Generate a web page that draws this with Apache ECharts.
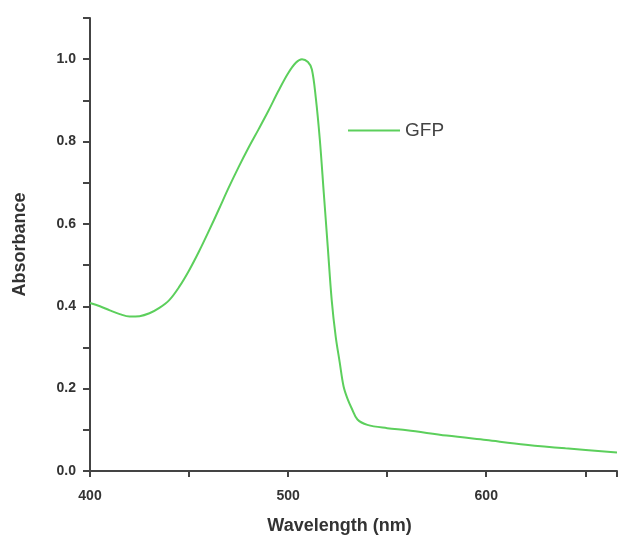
<!DOCTYPE html>
<html>
<head>
    <meta charset="UTF-8" />
    <title>GFP Absorbance</title>
    <script src="https://cdn.jsdelivr.net/npm/echarts@6/dist/echarts.min.js"></script>
    <style>
        html, body { margin: 0; padding: 0; background: #fff; }
        #chart { width: 620px; height: 545px; }
    </style>
</head>
<body>
    <div id="chart"></div>
<script type="text/javascript">
    // wavelength (nm)
    var wavelengths = [400, 405, 410, 415, 420, 425, 430, 435, 440, 445, 450, 455, 460, 465, 470, 475,
        480, 485, 490, 495, 500, 504, 507, 510, 512, 514, 516, 518, 520, 522, 524, 526,
        528, 530, 532, 535, 540, 550, 560, 580, 600, 620, 640, 666];
    // absorbance (normalised)
    var absorbance = [0.408, 0.400, 0.390, 0.381, 0.375, 0.376, 0.383, 0.396, 0.415, 0.447, 0.487, 0.533, 0.583, 0.635, 0.688, 0.738,
        0.785, 0.829, 0.874, 0.922, 0.966, 0.992, 1.0, 0.993, 0.975, 0.905, 0.805, 0.675, 0.545, 0.415, 0.327, 0.265,
        0.205, 0.175, 0.153, 0.125, 0.112, 0.104, 0.099, 0.086, 0.075, 0.064, 0.055, 0.045];
    var xLabels = [400, 500, 600];
    var yLabels = [0, 0.2, 0.4, 0.6, 0.8, 1.0];

    var seriesData = [];
    for (var i = 0; i < wavelengths.length; i++) {
        seriesData.push([wavelengths[i], absorbance[i]]);
    }

    var axisColor = '#444';
    var myChart = echarts.init(document.getElementById('chart'));
    var option = {
        animation: false,
        backgroundColor: '#fff',
        grid: { left: 90, right: 0, top: 18, bottom: 74 },
        legend: {
            left: 343,
            top: 116,
            icon: 'rect',
            itemWidth: 52,
            itemHeight: 2,
            textStyle: { fontFamily: 'Liberation Sans', fontSize: 19, color: '#444' },
            data: ['GFP']
        },
        xAxis: {
            type: 'value',
            min: 400,
            max: 666,
            interval: 50,
            name: 'Wavelength (nm)',
            nameLocation: 'middle',
            nameGap: 46,
            nameTextStyle: {
                fontFamily: 'Liberation Sans', fontWeight: 'bold', fontSize: 18, color: '#333',
                padding: [0, 28, 0, 0]
            },
            axisLine: { lineStyle: { color: axisColor, width: 2 } },
            axisTick: { show: true, length: 6, lineStyle: { color: axisColor, width: 2 } },
            axisLabel: {
                fontFamily: 'Liberation Sans', fontWeight: 'bold', fontSize: 14, color: '#333', margin: 18,
                formatter: function (v) { return xLabels.indexOf(v) >= 0 ? String(v) : ''; }
            },
            splitLine: { show: false }
        },
        yAxis: {
            type: 'value',
            min: 0,
            max: 1.1,
            interval: 0.1,
            name: 'Absorbance',
            nameLocation: 'middle',
            nameGap: 61,
            nameRotate: 90,
            nameTextStyle: { fontFamily: 'Liberation Sans', fontWeight: 'bold', fontSize: 18, color: '#333' },
            axisLine: { show: true, lineStyle: { color: axisColor, width: 2 } },
            axisTick: { show: true, length: 7, lineStyle: { color: axisColor, width: 2 } },
            axisLabel: {
                fontFamily: 'Liberation Sans', fontWeight: 'bold', fontSize: 14, color: '#333', margin: 14,
                formatter: function (v) {
                    for (var k = 0; k < yLabels.length; k++) {
                        if (Math.abs(v - yLabels[k]) < 1e-6) return yLabels[k].toFixed(1);
                    }
                    return '';
                }
            },
            splitLine: { show: false }
        },
        series: [{
            name: 'GFP',
            type: 'line',
            data: seriesData,
            smooth: 0.35,
            symbol: 'none',
            lineStyle: { color: '#5ccf5c', width: 2 },
            itemStyle: { color: '#5ccf5c' }
        }]
    };
    myChart.setOption(option);
</script>
</body>
</html>
